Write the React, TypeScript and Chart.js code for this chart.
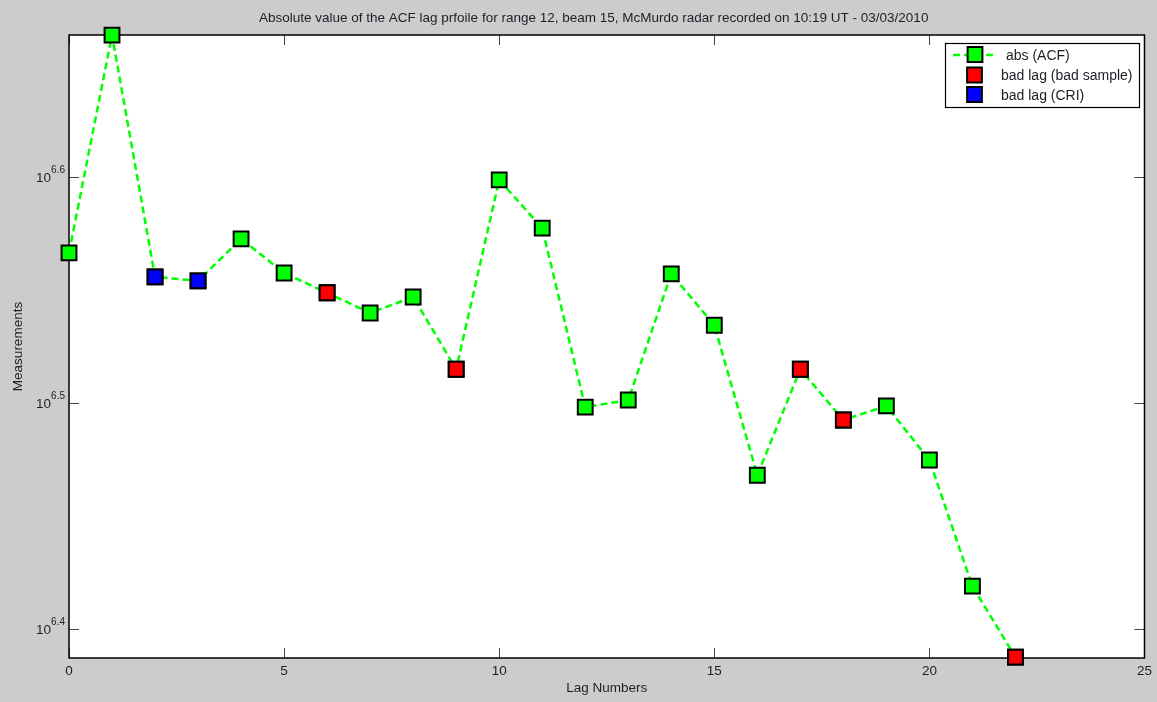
import { useEffect, useRef } from 'react';
import { Chart, registerables } from 'chart.js';

Chart.register(...registerables);

const chartTitle =
  'Absolute value of the ACF lag prfoile for range 12, beam 15, McMurdo radar recorded on 10:19 UT - 03/03/2010';
const xAxisTitle = 'Lag Numbers';
const yAxisTitle = 'Measurements';

const lagNumbers = [0, 1, 2, 3, 4, 5, 6, 7, 8, 9, 10, 11, 12, 13, 14, 15, 16, 17, 18, 19, 20, 21, 22];
const measurements = [
  3.685e6, 4.6e6, 3.596e6, 3.581e6, 3.738e6, 3.61e6, 3.538e6, 3.466e6, 3.523e6, 3.273e6,
  3.969e6, 3.779e6, 3.149e6, 3.172e6, 3.607e6, 3.423e6, 2.938e6, 3.273e6, 3.108e6, 3.153e6,
  2.984e6, 2.624e6, 2.441e6,
];
const badSampleLags = [6, 9, 17, 18, 22];
const criLags = [2, 3];

const xTicks = [0, 5, 10, 15, 20, 25];
const yTickExponents = [6.4, 6.5, 6.6];
const yMinExponent = 6.3872;
const yMaxExponent = 6.6628;

const legendLabels = ['abs (ACF)', 'bad lag (bad sample)', 'bad lag (CRI)'];

const GREEN = '#00ff00';
const RED = '#ff0000';
const BLUE = '#0000ff';
const FIG_BG = '#cccccc';
const TEXT = '#1e1e28';
const FONT = '"Liberation Sans", Arial, sans-serif';

function drawSquare(ctx: CanvasRenderingContext2D, x: number, y: number, fill: string) {
  const s = 7.4;
  ctx.save();
  ctx.fillStyle = fill;
  ctx.strokeStyle = '#000';
  ctx.lineWidth = 2;
  ctx.beginPath();
  ctx.rect(x - s, y - s, 2 * s, 2 * s);
  ctx.fill();
  ctx.stroke();
  ctx.restore();
}

const matlabPlugin = {
  id: 'matlabLook',
  beforeDraw(chart: any) {
    const { ctx, width, height, chartArea } = chart;
    ctx.save();
    ctx.fillStyle = FIG_BG;
    ctx.fillRect(0, 0, width, height);
    ctx.fillStyle = '#ffffff';
    ctx.fillRect(chartArea.left, chartArea.top, chartArea.right - chartArea.left, chartArea.bottom - chartArea.top);
    ctx.restore();
  },
  beforeDatasetsDraw(chart: any) {
    const { ctx, chartArea } = chart;
    const { left, right, top, bottom } = chartArea;
    const xs = chart.scales.x;
    const ys = chart.scales.y;
    ctx.save();
    // ticks (inward, mirrored)
    ctx.strokeStyle = '#444';
    ctx.lineWidth = 1;
    const tl = 10;
    xTicks.forEach((v) => {
      const px = Math.round(xs.getPixelForValue(v)) + 0.5;
      ctx.beginPath();
      ctx.moveTo(px, bottom);
      ctx.lineTo(px, bottom - tl);
      ctx.moveTo(px, top);
      ctx.lineTo(px, top + tl);
      ctx.stroke();
    });
    yTickExponents.forEach((e) => {
      const py = Math.round(ys.getPixelForValue(Math.pow(10, e))) + 0.5;
      ctx.beginPath();
      ctx.moveTo(left, py);
      ctx.lineTo(left + tl, py);
      ctx.moveTo(right, py);
      ctx.lineTo(right - tl, py);
      ctx.stroke();
    });
    // frame
    ctx.strokeStyle = '#000';
    ctx.lineWidth = 1.5;
    ctx.strokeRect(left, top, right - left, bottom - top);
    // y tick labels 10^e
    ctx.fillStyle = TEXT;
    yTickExponents.forEach((e) => {
      const py = ys.getPixelForValue(Math.pow(10, e));
      const sup = e.toFixed(1);
      ctx.font = `10px ${FONT}`;
      ctx.textAlign = 'right';
      ctx.textBaseline = 'alphabetic';
      const supW = ctx.measureText(sup).width;
      ctx.fillText(sup, left - 4, py - 4);
      ctx.font = `13.5px ${FONT}`;
      ctx.textBaseline = 'middle';
      ctx.fillText('10', left - 4 - supW, py + 1);
    });
    // title
    ctx.font = `13.5px ${FONT}`;
    ctx.textAlign = 'left';
    ctx.textBaseline = 'middle';
    ctx.fillText(chartTitle, 259, 18);
    ctx.restore();
  },
  afterDraw(chart: any) {
    const { ctx } = chart;
    ctx.save();
    // legend box
    ctx.fillStyle = '#ffffff';
    ctx.fillRect(945, 43, 194, 64);
    ctx.strokeStyle = '#000';
    ctx.lineWidth = 1.2;
    ctx.strokeRect(945.5, 43.5, 194, 64);
    // row 1 line
    ctx.strokeStyle = GREEN;
    ctx.lineWidth = 2.5;
    ctx.setLineDash([7, 4]);
    ctx.beginPath();
    ctx.moveTo(953, 55);
    ctx.lineTo(995, 55);
    ctx.stroke();
    ctx.setLineDash([]);
    drawSquare(ctx, 975, 54.5, GREEN);
    drawSquare(ctx, 974.5, 75, RED);
    drawSquare(ctx, 974.5, 94.5, BLUE);
    ctx.fillStyle = TEXT;
    ctx.font = `14px ${FONT}`;
    ctx.textAlign = 'left';
    ctx.textBaseline = 'middle';
    ctx.fillText(legendLabels[0], 1006, 56);
    ctx.fillText(legendLabels[1], 1001, 76.5);
    ctx.fillText(legendLabels[2], 1001, 96);
    ctx.restore();
  },
};

export default function App() {
  const canvasRef = useRef<HTMLCanvasElement | null>(null);

  useEffect(() => {
    document.body.style.margin = '0';
    const canvas = canvasRef.current;
    if (!canvas) return;

    const mainData = lagNumbers.map((x, i) => ({ x, y: measurements[i] }));
    const badData = badSampleLags.map((l) => ({ x: l, y: measurements[lagNumbers.indexOf(l)] }));
    const criData = criLags.map((l) => ({ x: l, y: measurements[lagNumbers.indexOf(l)] }));

    const pointCommon = {
      pointStyle: 'rect' as const,
      pointRadius: 10.5,
      pointHoverRadius: 10.5,
      pointBorderColor: '#000000',
      pointBorderWidth: 2,
      clip: false as const,
    };

    const chart = new Chart(canvas, {
      type: 'line',
      data: {
        datasets: [
          {
            label: legendLabels[0],
            data: mainData,
            borderColor: GREEN,
            borderWidth: 2.5,
            borderDash: [7, 4],
            backgroundColor: GREEN,
            pointBackgroundColor: GREEN,
            tension: 0,
            order: 3,
            ...pointCommon,
          },
          {
            label: legendLabels[1],
            data: badData,
            showLine: false,
            borderColor: RED,
            backgroundColor: RED,
            pointBackgroundColor: RED,
            order: 1,
            ...pointCommon,
          },
          {
            label: legendLabels[2],
            data: criData,
            showLine: false,
            borderColor: BLUE,
            backgroundColor: BLUE,
            pointBackgroundColor: BLUE,
            order: 1,
            ...pointCommon,
          },
        ],
      },
      options: {
        responsive: false,
        animation: false,
        events: [],
        layout: { padding: { top: 35, right: 12, left: 0, bottom: 0 } },
        plugins: {
          legend: { display: false },
          title: { display: false },
          tooltip: { enabled: false },
        },
        scales: {
          x: {
            type: 'linear',
            position: 'bottom',
            min: 0,
            max: 25,
            grid: { display: false, drawTicks: false },
            border: { display: false },
            ticks: {
              stepSize: 5,
              autoSkip: false,
              maxRotation: 0,
              padding: 5,
              color: TEXT,
              font: { family: FONT, size: 13.5 },
            },
            afterBuildTicks: (s: any) => {
              s.ticks = xTicks.map((v) => ({ value: v }));
            },
            afterFit: (s: any) => {
              s.height = 44;
            },
            title: {
              display: true,
              text: xAxisTitle,
              color: TEXT,
              font: { family: FONT, size: 13.5 },
              padding: { top: 0, bottom: 6 },
            },
          },
          y: {
            type: 'logarithmic',
            position: 'left',
            min: Math.pow(10, yMinExponent),
            max: Math.pow(10, yMaxExponent),
            grid: { display: false, drawTicks: false },
            border: { display: false },
            ticks: { display: false },
            afterBuildTicks: (s: any) => {
              s.ticks = yTickExponents.map((e) => ({ value: Math.pow(10, e) }));
            },
            afterFit: (s: any) => {
              s.width = 69;
            },
            title: {
              display: true,
              text: yAxisTitle,
              color: TEXT,
              font: { family: FONT, size: 13.5 },
              padding: { top: 10, bottom: 0 },
            },
          },
        },
      },
      plugins: [matlabPlugin],
    });

    return () => chart.destroy();
  }, []);

  return (
    <div style={{ width: 1157, height: 702 }}>
      <canvas ref={canvasRef} width={1157} height={702} style={{ display: 'block' }} />
    </div>
  );
}
